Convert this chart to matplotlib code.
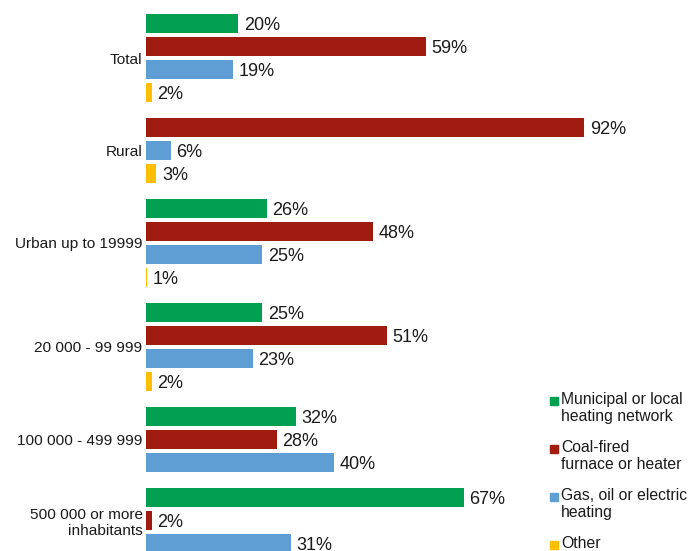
"""
Main heating source of households by place of residence
Horizontal bars, one per reported heating type, grouped by locality size
"""

import matplotlib.pyplot as plt
from matplotlib.patches import Rectangle

plt.rcParams['font.family'] = ['Liberation Sans', 'DejaVu Sans']

# Data (percent of households); None = not shown
categories = ["Total", "Rural", "Urban up to 19999", "20 000 - 99 999",
              "100 000 - 499 999", "500 000 or more\ninhabitants"]
municipal = [20, None, 26, 25, 32, 67]
coal = [59, 92, 48, 51, 28, 2]
gas = [19, 6, 25, 23, 40, 31]
other = [2, 3, 1, 2, None, None]

series_names = ["Municipal or local\nheating network",
                "Coal-fired\nfurnace or heater",
                "Gas, oil or electric\nheating",
                "Other"]
series_values = [municipal, coal, gas, other]
colors = ["#00A050", "#A01B10", "#5F9ED5", "#FFBF00"]

# Layout (pixels)
W, H = 692, 551
SLOT = 23.0          # distance between neighbouring bars
GROUP_GAP = 0.52     # extra space between groups, in slots
BAR_H = 19 / SLOT
PX_PER_PCT = 4.806
AX_LEFT, AX_W = 146, 480
X0 = 4 / PX_PER_PCT  # value axis zero lies a few px left of the bar start
TEXT = "#1a1a1a"

fig = plt.figure(figsize=(W / 100, H / 100), dpi=100)
ax = fig.add_axes([AX_LEFT / W, 0, AX_W / W, 1])

pos = 0.0
centers = []
for g in range(len(categories)):
    ys = []
    for vals, color in zip(series_values, colors):
        v = vals[g]
        if v is None:
            continue
        ax.barh(pos, v, height=BAR_H, color=color)
        ax.annotate(f"{v}%", xy=(v, pos), xytext=(4, -1.5),
                    textcoords='offset points', va='center', ha='left',
                    fontsize=13, color=TEXT, annotation_clip=False)
        ys.append(pos)
        pos += 1
    centers.append((ys[0] + ys[-1]) / 2)
    pos += GROUP_GAP

ax.set_xlim(X0, X0 + AX_W / PX_PER_PCT)
# first bar centre sits 23.5 px below the top edge
top = -23.5 / SLOT
ax.set_ylim(top + H / SLOT, top)

ax.set_yticks(centers, categories, fontsize=11.1, color=TEXT)
for lbl in ax.get_yticklabels():
    lbl.set_multialignment('right')
ax.tick_params(axis='y', length=0, pad=2.5)
ax.set_xticks([])
for s in ax.spines.values():
    s.set_visible(False)

# Legend, marker aligned with the first line of each entry
for i, (name, color) in enumerate(zip(series_names, colors)):
    y0 = 401 + i * 48
    fig.add_artist(Rectangle((550 / W, 1 - (y0 + 4) / H), 8 / W, 8 / H,
                             transform=fig.transFigure, color=color))
    fig.text(561 / W, 1 - (y0 - 9) / H, name, va='top', ha='left',
             fontsize=11.3, color=TEXT, linespacing=1.2)

fig.savefig("out.png", dpi=100)
